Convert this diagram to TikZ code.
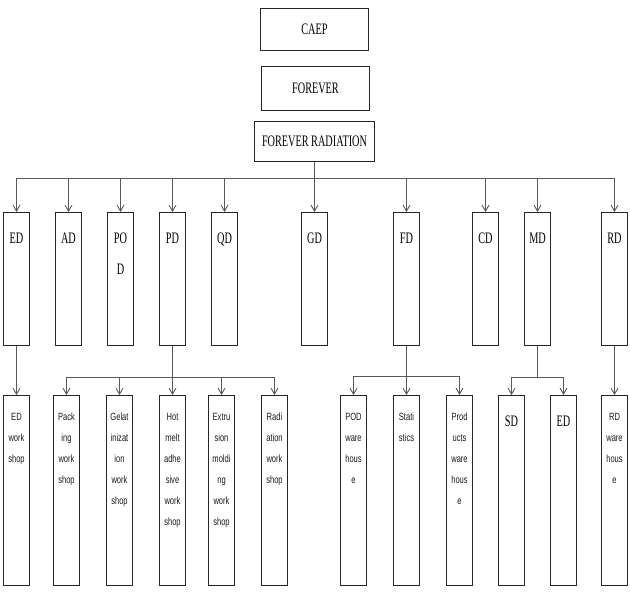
\documentclass[tikz,border=0pt]{standalone}
\usepackage{fontspec}
\setmainfont{Liberation Serif}
\newfontfamily\arialf{Liberation Sans}
\usetikzlibrary{arrows.meta}
\newcommand\sqz[1]{\scalebox{0.64}[1]{#1}}
\newcommand\sqa[1]{\scalebox{0.72}[1]{#1}}
\begin{document}
\begin{tikzpicture}[x=1pt,y=-1pt,
  box/.style={draw=black!85, line width=1pt, inner sep=0pt, anchor=north west},
  lvtwo/.style={box, minimum width=26pt, minimum height=133pt},
  lvthree/.style={box, minimum width=26pt, minimum height=190pt},
  conn/.style={draw=black!65, line width=0.9pt},
  arr/.style={conn, -{Straight Barb[length=6pt,width=7pt]}},
  serif/.style={inner sep=0pt, font=\fontsize{16}{31}\selectfont, align=center},
  sans/.style={inner sep=0pt, font=\arialf\fontsize{10.5}{21}\selectfont, text=black!90, align=center, anchor=north}]
\useasboundingbox (0,0) rectangle (630,592);

% top boxes
\node[box, minimum width=108pt, minimum height=42pt] (CAEP) at (260,8) {};
\node[box, minimum width=108pt, minimum height=44pt] (FOREVER) at (261,66) {};
\node[box, minimum width=120pt, minimum height=40pt] (FR) at (254,121) {};
\node[serif] (CAEPl) at (CAEP.center) {\sqz{CAEP}};
\node[serif] (FOREVERl) at (FOREVER.center) {\sqz{FOREVER}};
\node[serif] (FRl) at (FR.center) {\sqz{FOREVER RADIATION}};

% level two
\foreach \n/\x in {ED/3, AD/55, POD/107, PD/159, QD/211, GD/301, FD/393, CD/472, MD/524, RD/601}
  \node[lvtwo] (\n) at (\x,212) {};
\foreach \n/\t in {ED/ED, AD/AD, PD/PD, QD/QD, GD/GD, FD/FD, CD/CD, MD/MD, RD/RD}
  \node[serif, anchor=north] (\n l) at (\n.north |- 0,233) {\sqz{\t}};
\node[serif, anchor=north] (PODl) at (POD.north |- 0,233) {\sqz{PO}\\\sqz{D}};

% level three
\foreach \n/\x in {EDw/3, Pack/53, Gel/106, Hot/159, Ext/208, Rad/261, PODw/340, Stat/393, Prod/446, SD/498, EDb/550, RDw/601}
  \node[lvthree] (\n) at (\x,395) {};
\node[sans] (EDwl) at (EDw.north |- 0,413) {\sqa{ED}\\\sqa{work}\\\sqa{shop}};
\node[sans] (Packl) at (Pack.north |- 0,413) {\sqa{Pack}\\\sqa{ing}\\\sqa{work}\\\sqa{shop}};
\node[sans] (Gell) at (Gel.north |- 0,413) {\sqa{Gelat}\\\sqa{inizat}\\\sqa{ion}\\\sqa{work}\\\sqa{shop}};
\node[sans] (Hotl) at (Hot.north |- 0,413) {\sqa{Hot}\\\sqa{melt}\\\sqa{adhe}\\\sqa{sive}\\\sqa{work}\\\sqa{shop}};
\node[sans] (Extl) at (Ext.north |- 0,413) {\sqa{Extru}\\\sqa{sion}\\\sqa{moldi}\\\sqa{ng}\\\sqa{work}\\\sqa{shop}};
\node[sans] (Radl) at (Rad.north |- 0,413) {\sqa{Radi}\\\sqa{ation}\\\sqa{work}\\\sqa{shop}};
\node[sans] (PODwl) at (PODw.north |- 0,413) {\sqa{POD}\\\sqa{ware}\\\sqa{hous}\\\sqa{e}};
\node[sans] (Statl) at (Stat.north |- 0,413) {\sqa{Stati}\\\sqa{stics}};
\node[sans] (Prodl) at (Prod.north |- 0,413) {\sqa{Prod}\\\sqa{ucts}\\\sqa{ware}\\\sqa{hous}\\\sqa{e}};
\node[sans] (RDwl) at (RDw.north |- 0,413) {\sqa{RD}\\\sqa{ware}\\\sqa{hous}\\\sqa{e}};
\node[serif, anchor=north] (SDl) at (SD.north |- 0,416) {\sqz{SD}};
\node[serif, anchor=north] (EDbl) at (EDb.north |- 0,416) {\sqz{ED}};

% connectors level one to two
\coordinate (bus) at (314,178);
\draw[arr] (FR.south) -- (GD.north);
\draw[conn] (ED.north |- bus) -- (RD.north |- bus);
\foreach \n in {ED,AD,POD,PD,QD,FD,CD,MD,RD}
  \draw[arr] (\n.north |- bus) -- (\n.north);

% connectors level two to three
\draw[arr] (ED.south) -- (EDw.north);
\coordinate (pdbus) at (172,377);
\draw[arr] (PD.south) -- (Hot.north);
\draw[conn] (Pack.north |- pdbus) -- (Rad.north |- pdbus);
\foreach \n in {Pack,Gel,Ext,Rad}
  \draw[arr] (\n.north |- pdbus) -- (\n.north);

\coordinate (fdbus) at (406,376);
\draw[arr] (FD.south) -- (Stat.north);
\draw[conn] (PODw.north |- fdbus) -- (Prod.north |- fdbus);
\foreach \n in {PODw,Prod}
  \draw[arr] (\n.north |- fdbus) -- (\n.north);

\coordinate (mdbus) at (537,377);
\draw[conn] (MD.south) -- (MD.south |- mdbus);
\draw[conn] (SD.north |- mdbus) -- (EDb.north |- mdbus);
\foreach \n in {SD,EDb}
  \draw[arr] (\n.north |- mdbus) -- (\n.north);

\draw[arr] (RD.south) -- (RDw.north);
\end{tikzpicture}
\end{document}
